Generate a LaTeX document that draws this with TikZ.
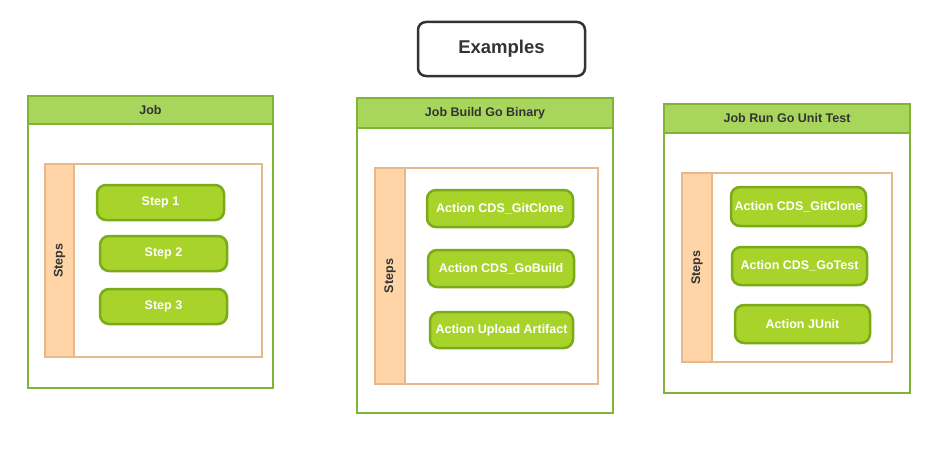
\documentclass[tikz,border=0pt]{standalone}
\usepackage{fontspec}
\setmainfont{Liberation Sans}
\usetikzlibrary{positioning}
\definecolor{jobline}{RGB}{128,180,52}
\definecolor{jobfill}{RGB}{168,214,92}
\definecolor{actline}{RGB}{122,172,26}
\definecolor{actfill}{RGB}{168,211,42}
\definecolor{stepline}{RGB}{230,185,140}
\definecolor{stepfill}{RGB}{255,212,166}
\definecolor{textgray}{RGB}{51,51,51}
\tikzset{
    jobbox/.style={draw=jobline,line width=2pt,fill=white},
    jobhead/.style={draw=jobline,line width=2pt,fill=jobfill,anchor=north,
        font=\bfseries\fontsize{12.5}{15}\selectfont,text=textgray},
    stepsbox/.style={draw=stepline,line width=2pt,fill=white},
    stepsband/.style={draw=stepline,line width=2pt,fill=stepfill,anchor=north west},
    stepslabel/.style={rotate=90,font=\bfseries\fontsize{12.5}{15}\selectfont,text=textgray},
    action/.style={draw=actline,line width=2.5pt,fill=actfill,rounded corners=9pt,
        text=white,font=\bfseries\fontsize{12.5}{15}\selectfont}
}
\begin{document}
\begin{tikzpicture}[x=1pt,y=1pt]
    \useasboundingbox (0,0) rectangle (949,-452);
    % title
    \node[draw=textgray,line width=2.5pt,rounded corners=8pt,minimum width=167,minimum height=54,
        font=\bfseries\fontsize{18.5}{22}\selectfont,text=textgray] (title) at (501.5,-49) {Examples};
    % job 1
    \node[jobbox,minimum width=245,minimum height=292] (job1) at (150.5,-242) {};
    \node[jobhead,minimum width=245,minimum height=28] (job1head) at (job1.north) {Job};
    \node[stepsbox,minimum width=217,minimum height=193] (steps1) at (153.5,-260.5) {};
    \node[stepsband,minimum width=29,minimum height=193] (band1) at (steps1.north west) {};
    \node[stepslabel] (label1) at (band1.center) {Steps};
    \foreach \n/\x/\y in {1/160.5/-202.5,2/163.5/-253.5,3/163.5/-306.5}
        \node[action,minimum width=127,minimum height=35] (job1s\n) at (\x,\y) {Step \n};
    % job 2
    \node[jobbox,minimum width=256,minimum height=315] (job2) at (485,-255.5) {};
    \node[jobhead,minimum width=256,minimum height=30] (job2head) at (job2.north) {Job Build Go Binary};
    \node[stepsbox,minimum width=223,minimum height=216] (steps2) at (486.5,-276) {};
    \node[stepsband,minimum width=30,minimum height=216] (band2) at (steps2.north west) {};
    \node[stepslabel] (label2) at (band2.center) {Steps};
    \node[action,minimum width=146,minimum height=37] (job2a1) at (500,-208.5) {Action CDS\_GitClone};
    \node[action,minimum width=146,minimum height=37] (job2a2) at (501,-268.5) {Action CDS\_GoBuild};
    \node[action,minimum width=143,minimum height=36] (job2a3) at (501.5,-330) {Action Upload Artifact};
    % job 3
    \node[jobbox,minimum width=246,minimum height=289] (job3) at (787,-248.5) {};
    \node[jobhead,minimum width=246,minimum height=29] (job3head) at (job3.north) {Job Run Go Unit Test};
    \node[stepsbox,minimum width=210,minimum height=189] (steps3) at (787,-267.5) {};
    \node[stepsband,minimum width=30,minimum height=189] (band3) at (steps3.north west) {};
    \node[stepslabel] (label3) at (band3.center) {Steps};
    \node[action,minimum width=135,minimum height=39] (job3a1) at (798.5,-206.5) {Action CDS\_GitClone};
    \node[action,minimum width=135,minimum height=38] (job3a2) at (799.5,-266) {Action CDS\_GoTest};
    \node[action,minimum width=135,minimum height=38] (job3a3) at (802.5,-324) {Action JUnit};
\end{tikzpicture}
\end{document}
